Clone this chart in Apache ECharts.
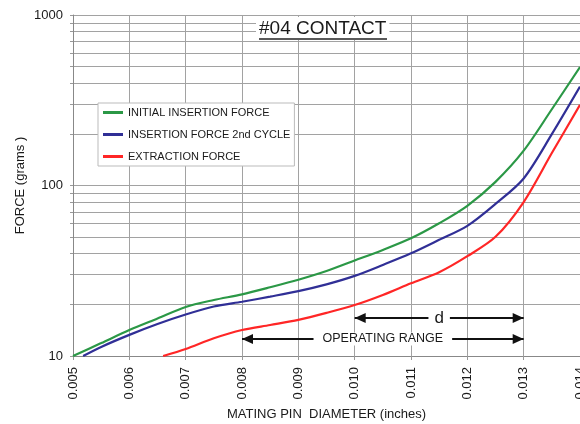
<!DOCTYPE html>
<html><head><meta charset="utf-8">
<script src="https://cdn.jsdelivr.net/npm/echarts@6/dist/echarts.min.js"></script>
<style>html,body{margin:0;padding:0;background:#fff}#c{width:580px;height:424px}</style>
</head><body><div id="c"></div>
<script>
// ---- data ----
const initialX = [0.005,0.0055,0.006,0.0065,0.007,0.0075,0.008,0.0085,0.009,0.0095,0.010,0.0105,0.011,0.0115,0.012,0.0125,0.013,0.0135,0.014];
const initialY = [10,11.9,14.2,16.6,19.4,21.3,23.0,25.3,28.0,31.5,36.3,41.9,49,60,76,105,160,280,495];
const secondX = [0.00518,0.0055,0.006,0.0065,0.007,0.0075,0.008,0.0085,0.009,0.0095,0.010,0.0105,0.011,0.0115,0.012,0.0125,0.013,0.0135,0.014];
const secondY = [10,11.3,13.3,15.4,17.5,19.5,20.8,22.3,24.0,26.3,29.5,34.2,40,48,58,78,110,200,380];
const extractX = [0.0066,0.007,0.0075,0.008,0.0085,0.009,0.0095,0.010,0.0105,0.011,0.0115,0.012,0.0125,0.013,0.0135,0.014];
const extractY = [10,11.0,12.7,14.2,15.2,16.3,17.9,19.9,22.8,26.7,31.0,38.5,50,80,155,297];
const seriesNames = ['INITIAL INSERTION FORCE','INSERTION FORCE 2nd CYCLE','EXTRACTION FORCE'];
const yLabelTicks = [10,100,1000];
const yGridTicks = [10,20,30,40,50,60,70,80,90,100,200,300,400,500,600,700,800,900,1000];
const arrowLabels = ['d','OPERATING RANGE'];
const arrowFrom = [0.010,0.008];
const arrowTo = [0.013,0.013];
const arrowAt = [16.7,12.6];

const FONT = 'Liberation Sans, Arial, sans-serif';
const zip = (xs, ys) => xs.map((x, i) => [x, ys[i]]);
const colors = ['#2b9846','#302f96','#ff2626'];
const labelSizes = [17, 12.5];
const labelPads = [[0,6],[0,9]];
const headSize = [10,11];
const headOffset = [0,5.5];

const chart = echarts.init(document.getElementById('c'), null, {renderer:'canvas'});
chart.setOption({
  animation:false,
  textStyle:{fontFamily:FONT},
  title:{text:'#04 CONTACT', left:256, top:17, padding:[2,3], backgroundColor:'#fff',
    textStyle:{fontSize:19, fontWeight:'normal', color:'#1a1a1a', fontFamily:FONT}},
  graphic:[{type:'line', shape:{x1:259,y1:39,x2:387,y2:39}, style:{stroke:'#222', lineWidth:1.5}, z:100}],
  legend:{orient:'vertical', left:98, top:103, padding:[4,4,4,5], itemGap:11,
    backgroundColor:'#fff', borderColor:'#bbb', borderWidth:1,
    icon:'rect', itemWidth:20, itemHeight:3,
    textStyle:{fontSize:11, color:'#1a1a1a', fontFamily:FONT},
    data:seriesNames},
  grid:{left:73, right:0, top:15, bottom:68, containLabel:false, outerBoundsMode:'none'},
  xAxis:{type:'value', min:0.005, max:0.014, interval:0.001,
    axisLine:{show:true, lineStyle:{color:'#888', width:1}},
    axisTick:{show:true, length:4, lineStyle:{color:'#999'}},
    splitLine:{show:true, lineStyle:{color:'#a2a2a2', width:1}},
    axisLabel:{rotate:90, margin:11, fontSize:13, color:'#1a1a1a', fontFamily:FONT, formatter:v=>v.toFixed(3)},
    name:'MATING PIN  DIAMETER (inches)', nameLocation:'middle', nameGap:51,
    nameTextStyle:{fontSize:13, color:'#1a1a1a', fontFamily:FONT}},
  yAxis:{type:'log', logBase:10, min:10, max:1000,
    axisLine:{show:true, lineStyle:{color:'#888', width:1}},
    axisTick:{show:true, length:3, lineStyle:{color:'#999'}, customValues:yGridTicks},
    splitLine:{show:true, lineStyle:{color:'#a2a2a2', width:1}},
    axisLabel:{customValues:yLabelTicks, margin:10, fontSize:13, color:'#1a1a1a', fontFamily:FONT, formatter:v=>String(Math.round(v))},
    name:'FORCE (grams )', nameLocation:'middle', nameGap:46, nameMoveOverlap:false,
    nameTextStyle:{fontSize:13, color:'#1a1a1a', fontFamily:FONT}},
  series:[
    {name:seriesNames[0], type:'line', data:zip(initialX, initialY), smooth:0.3, symbol:'none', color:colors[0], lineStyle:{width:2.2}, z:3},
    {name:seriesNames[1], type:'line', data:zip(secondX, secondY), smooth:0.3, symbol:'none', color:colors[1], lineStyle:{width:2.2}, z:3},
    {name:seriesNames[2], type:'line', data:zip(extractX, extractY), smooth:0.3, symbol:'none', color:colors[2], lineStyle:{width:2.2}, z:3},
    {name:'arrows', type:'line', data:[], z:4,
      markLine:{silent:true, animation:false,
        symbol:['triangle','triangle'],
        lineStyle:{color:'#111', width:2, type:'solid'},
        itemStyle:{color:'#111'},
        label:{show:true, position:'insideMiddle', formatter:'{b}', color:'#1a1a1a', fontFamily:FONT, backgroundColor:'#fff'},
        data: arrowLabels.map((t, i) => [
          {name:t, coord:[arrowFrom[i], arrowAt[i]], symbolSize:headSize, symbolOffset:headOffset,
            label:{fontSize:labelSizes[i], padding:labelPads[i]}},
          {coord:[arrowTo[i], arrowAt[i]], symbolSize:headSize, symbolOffset:headOffset}
        ])}}
  ]
});
</script></body></html>
